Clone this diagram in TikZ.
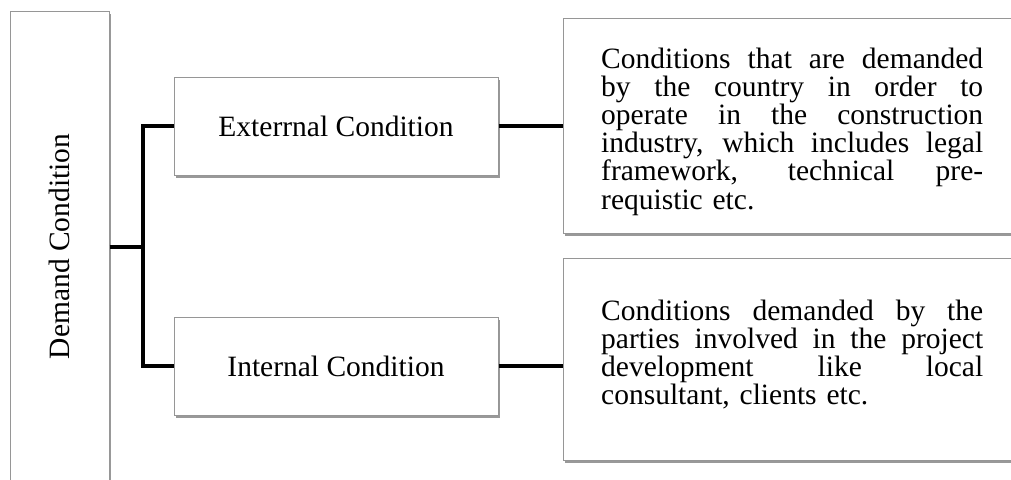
\documentclass[tikz,border=0pt]{standalone}
\usepackage{fontspec}
\setmainfont{Liberation Serif}
\usetikzlibrary{shadows}
\definecolor{boxgray}{RGB}{150,150,150}
% one fully justified line of a description paragraph
\newcommand\fullline[1]{\leavevmode\hbox to 382pt{\spaceskip=0.25em plus 1fil\relax #1}}
\tikzset{
  box/.style={draw=boxgray, line width=1pt, fill=white, inner sep=0pt,
    drop shadow={shadow xshift=1.5pt, shadow yshift=-2.5pt, fill=black, opacity=0.4}},
  conn/.style={line width=4pt, line join=miter},
  label/.style={inner sep=0pt, font=\fontsize{29.5}{34}\selectfont},
  para/.style={inner sep=0pt, text width=382pt, align=left, anchor=base west,
    font=\fontsize{29.5}{28.2}\selectfont},
}
\begin{document}
\begin{tikzpicture}[x=1pt, y=-1pt]
  \clip (0,0) rectangle (1011,479);
  \fill[white] (0,0) rectangle (1011,479);

  % main category
  \node[box, minimum width=99pt, minimum height=471pt] (dc) at (59.5,246.5) {};
  \node[label, rotate=90] (dctext) at (dc.center) {Demand Condition};

  % sub categories
  \node[box, minimum width=324pt, minimum height=98pt] (ext) at (336,126) {};
  \node[label] (exttext) at (ext.center) {Exterrnal Condition};
  \node[box, minimum width=324pt, minimum height=98pt] (int) at (336,366) {};
  \node[label] (inttext) at (int.center) {Internal Condition};

  % descriptions
  \node[box, minimum width=458pt, minimum height=215pt] (extd) at (792,126) {};
  \node[para] (extdtext) at (601,68) {%
    \fullline{Conditions that are demanded}\\
    \fullline{by the country in order to}\\
    \fullline{operate in the construction}\\
    \fullline{industry, which includes legal}\\
    \fullline{framework, technical pre-}\\
    requistic etc.};
  \node[box, minimum width=458pt, minimum height=202pt] (intd) at (792,359) {};
  \node[para] (intdtext) at (601,320) {%
    \fullline{Conditions demanded by the}\\
    \fullline{parties involved in the project}\\
    \fullline{development like local}\\
    consultant, clients etc.};

  % tree connectors
  \draw[conn] (dc.east) -- ++(33,0) coordinate (fork);
  \draw[conn] (ext.west) -| (fork) |- (int.west);
  \draw[conn] (ext.east) -- (ext.east -| extd.west);
  \draw[conn] (int.east) -- (int.east -| intd.west);
\end{tikzpicture}
\end{document}
